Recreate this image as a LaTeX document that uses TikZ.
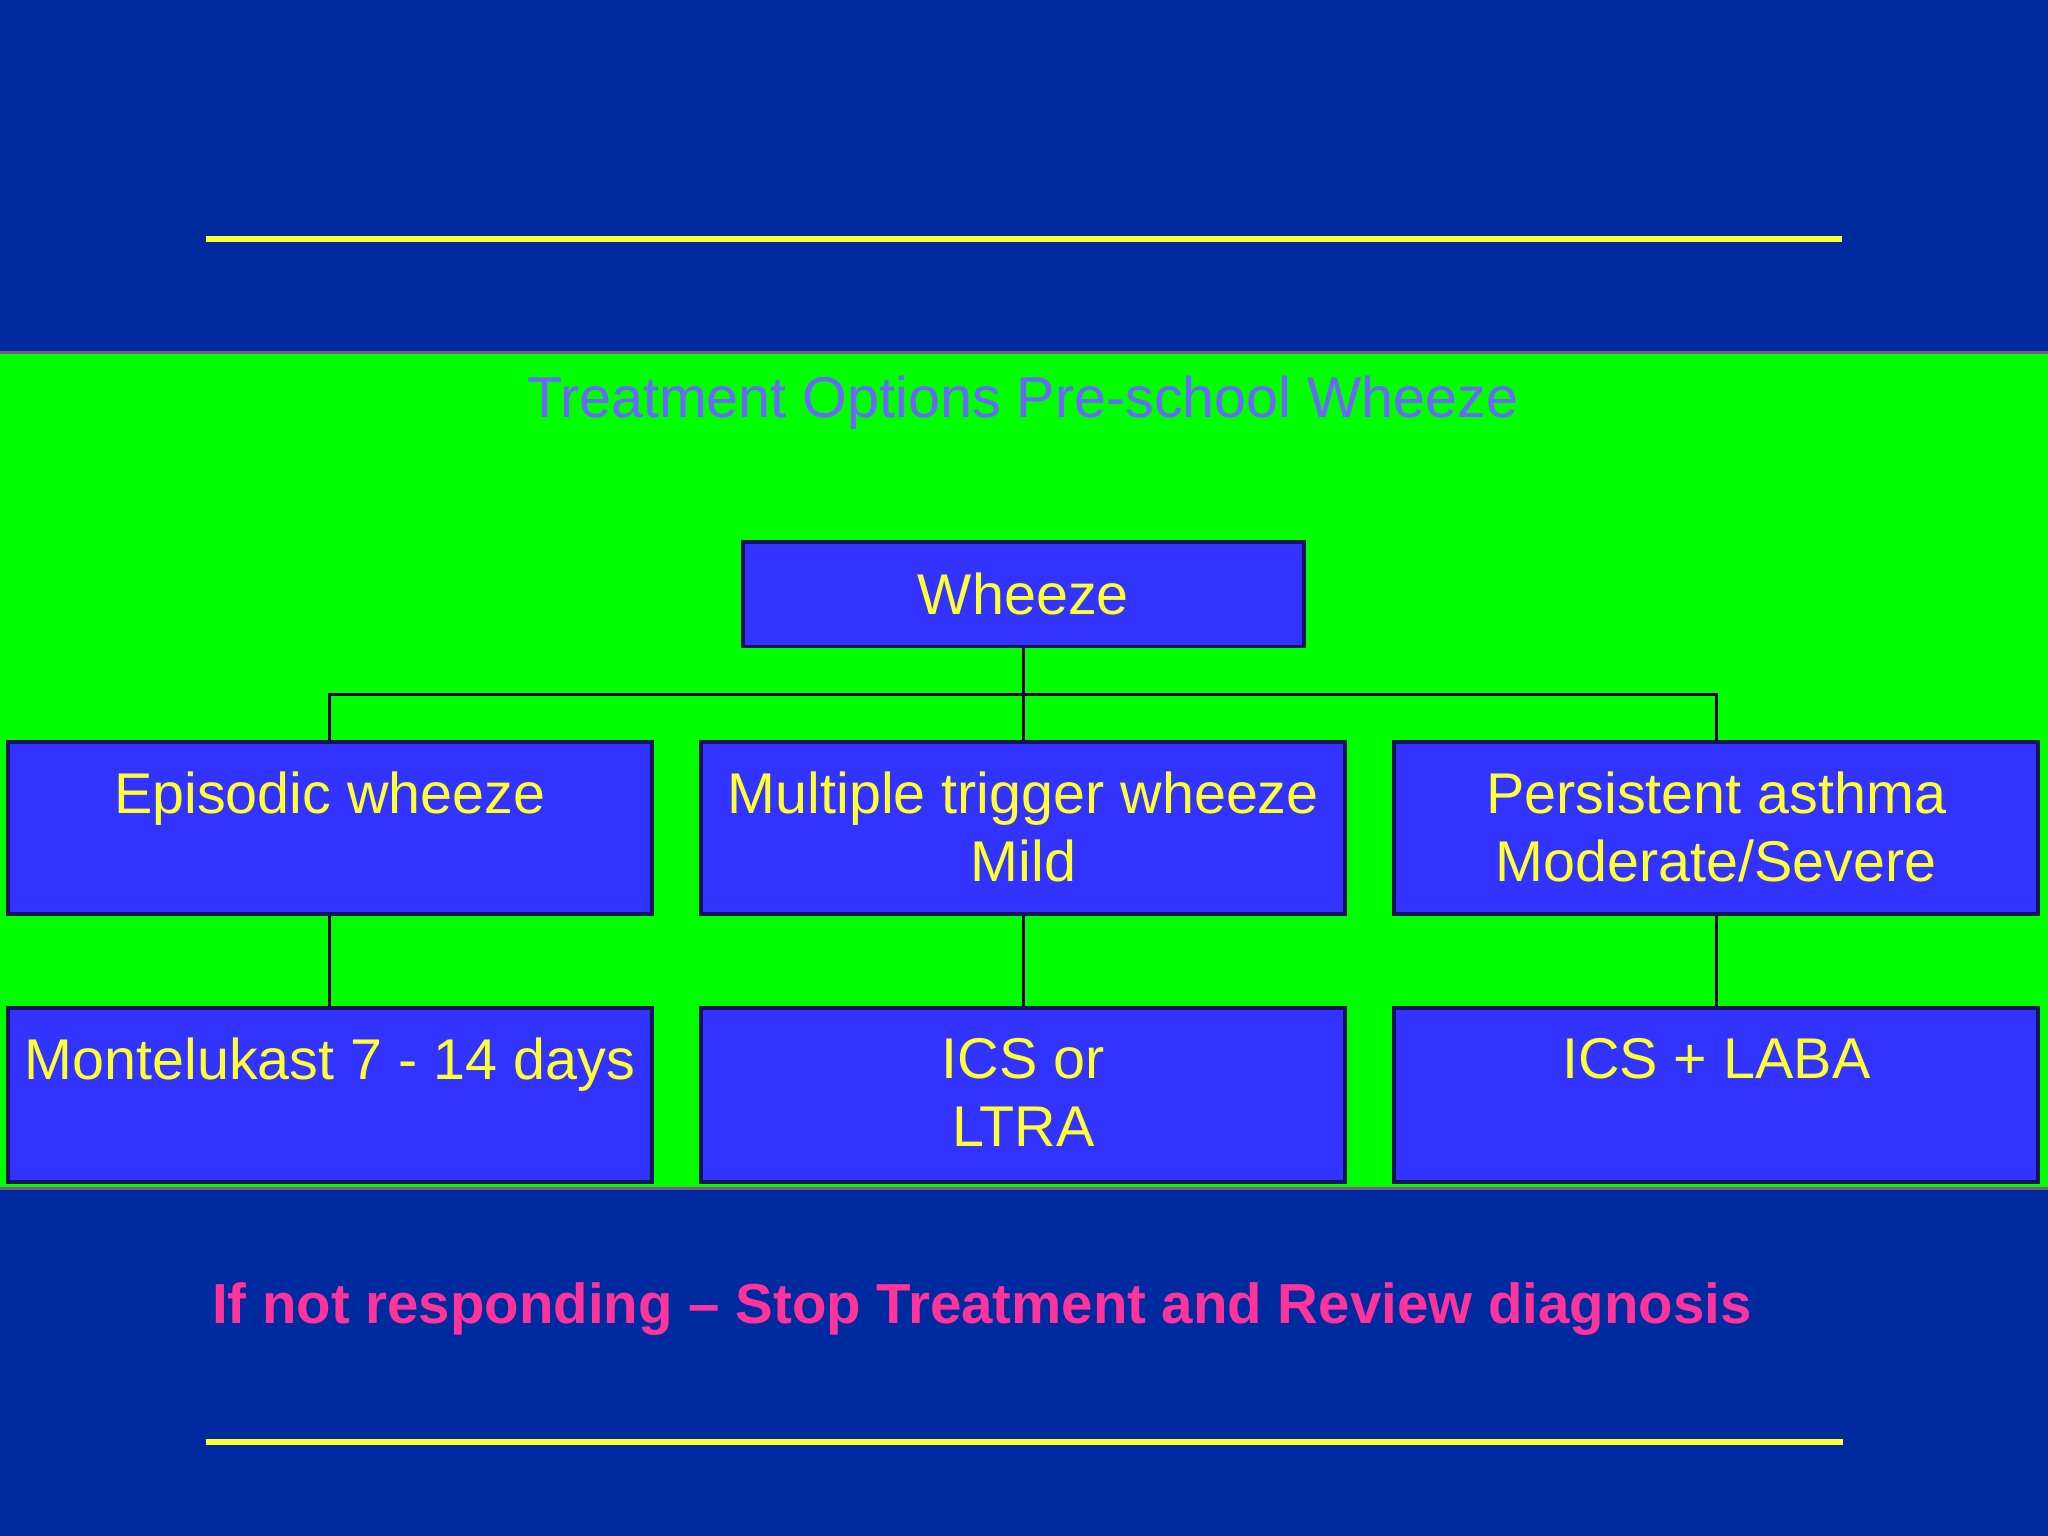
\documentclass[tikz,border=0pt]{standalone}
\usepackage{fontspec}
\setmainfont{Liberation Sans}
\definecolor{bgblue}{RGB}{0,42,160}
\definecolor{boxblue}{RGB}{51,51,255}
\definecolor{boxline}{RGB}{20,20,90}
\definecolor{txtyellow}{RGB}{255,255,51}
\definecolor{ttl}{RGB}{110,100,255}
\definecolor{pinkish}{RGB}{255,51,153}
\tikzset{
  box/.style={draw=boxline,line width=1.5pt,fill=boxblue,inner sep=0pt},
  txt/.style={text=txtyellow,font=\fontsize{22}{26}\selectfont,align=center,inner sep=0pt},
  conn/.style={draw=black!85!blue,line width=1.2pt},
  yline/.style={draw=txtyellow,line width=2pt}
}
\begin{document}
\begin{tikzpicture}[x=0.5pt,y=-0.5pt]
\fill[bgblue] (0,0) rectangle (1568,1176);
\useasboundingbox (0,0) rectangle (1568,1176);
\fill[green,draw=gray!70!violet,line width=1pt] (-2,270) rectangle (1570,910);
\draw[yline] (158,183) -- (1410,183);
\draw[yline] (158,1104) -- (1411,1104);
\node[text=ttl,font=\fontsize{22}{26}\selectfont] (title) at (783,308) {Treatment Options Pre-school Wheeze};
\node[box,minimum width=215pt,minimum height=40pt] (w) at (783.5,455) {};
\node[txt] at (w) {Wheeze};
\foreach \n/\x in {a/252.5,b/783.5,c/1314} {
  \node[box,minimum width=246.5pt,minimum height=66pt] (\n2) at (\x,634) {};
  \node[box,minimum width=246.5pt,minimum height=66.5pt] (\n3) at (\x,838.5) {};
}
\node[txt,anchor=north] at ([yshift=-12pt]a2.north) {Episodic wheeze};
\node[txt,anchor=north] at ([yshift=-12pt]b2.north) {Multiple trigger wheeze\\Mild};
\node[txt,anchor=north] at ([yshift=-12pt]c2.north) {Persistent asthma\\Moderate/Severe};
\node[txt,anchor=north] at ([yshift=-12pt]a3.north) {Montelukast 7 - 14 days};
\node[txt,anchor=north] at ([yshift=-12pt]b3.north) {ICS or\\LTRA};
\node[txt,anchor=north] at ([yshift=-12pt]c3.north) {ICS + LABA};
\coordinate (j) at (783.5,532);
\draw[conn] (w.south) -- (j);
\draw[conn] (a2.north) |- (j) -| (c2.north);
\draw[conn] (j) -- (b2.north);
\foreach \n in {a,b,c} \draw[conn] (\n2.south) -- (\n3.north);
\node[text=pinkish,font=\bfseries\fontsize{21.6}{26}\selectfont,anchor=west,inner sep=0pt] (note) at (162,1002) {If not responding – Stop Treatment and Review diagnosis};
\end{tikzpicture}
\end{document}
